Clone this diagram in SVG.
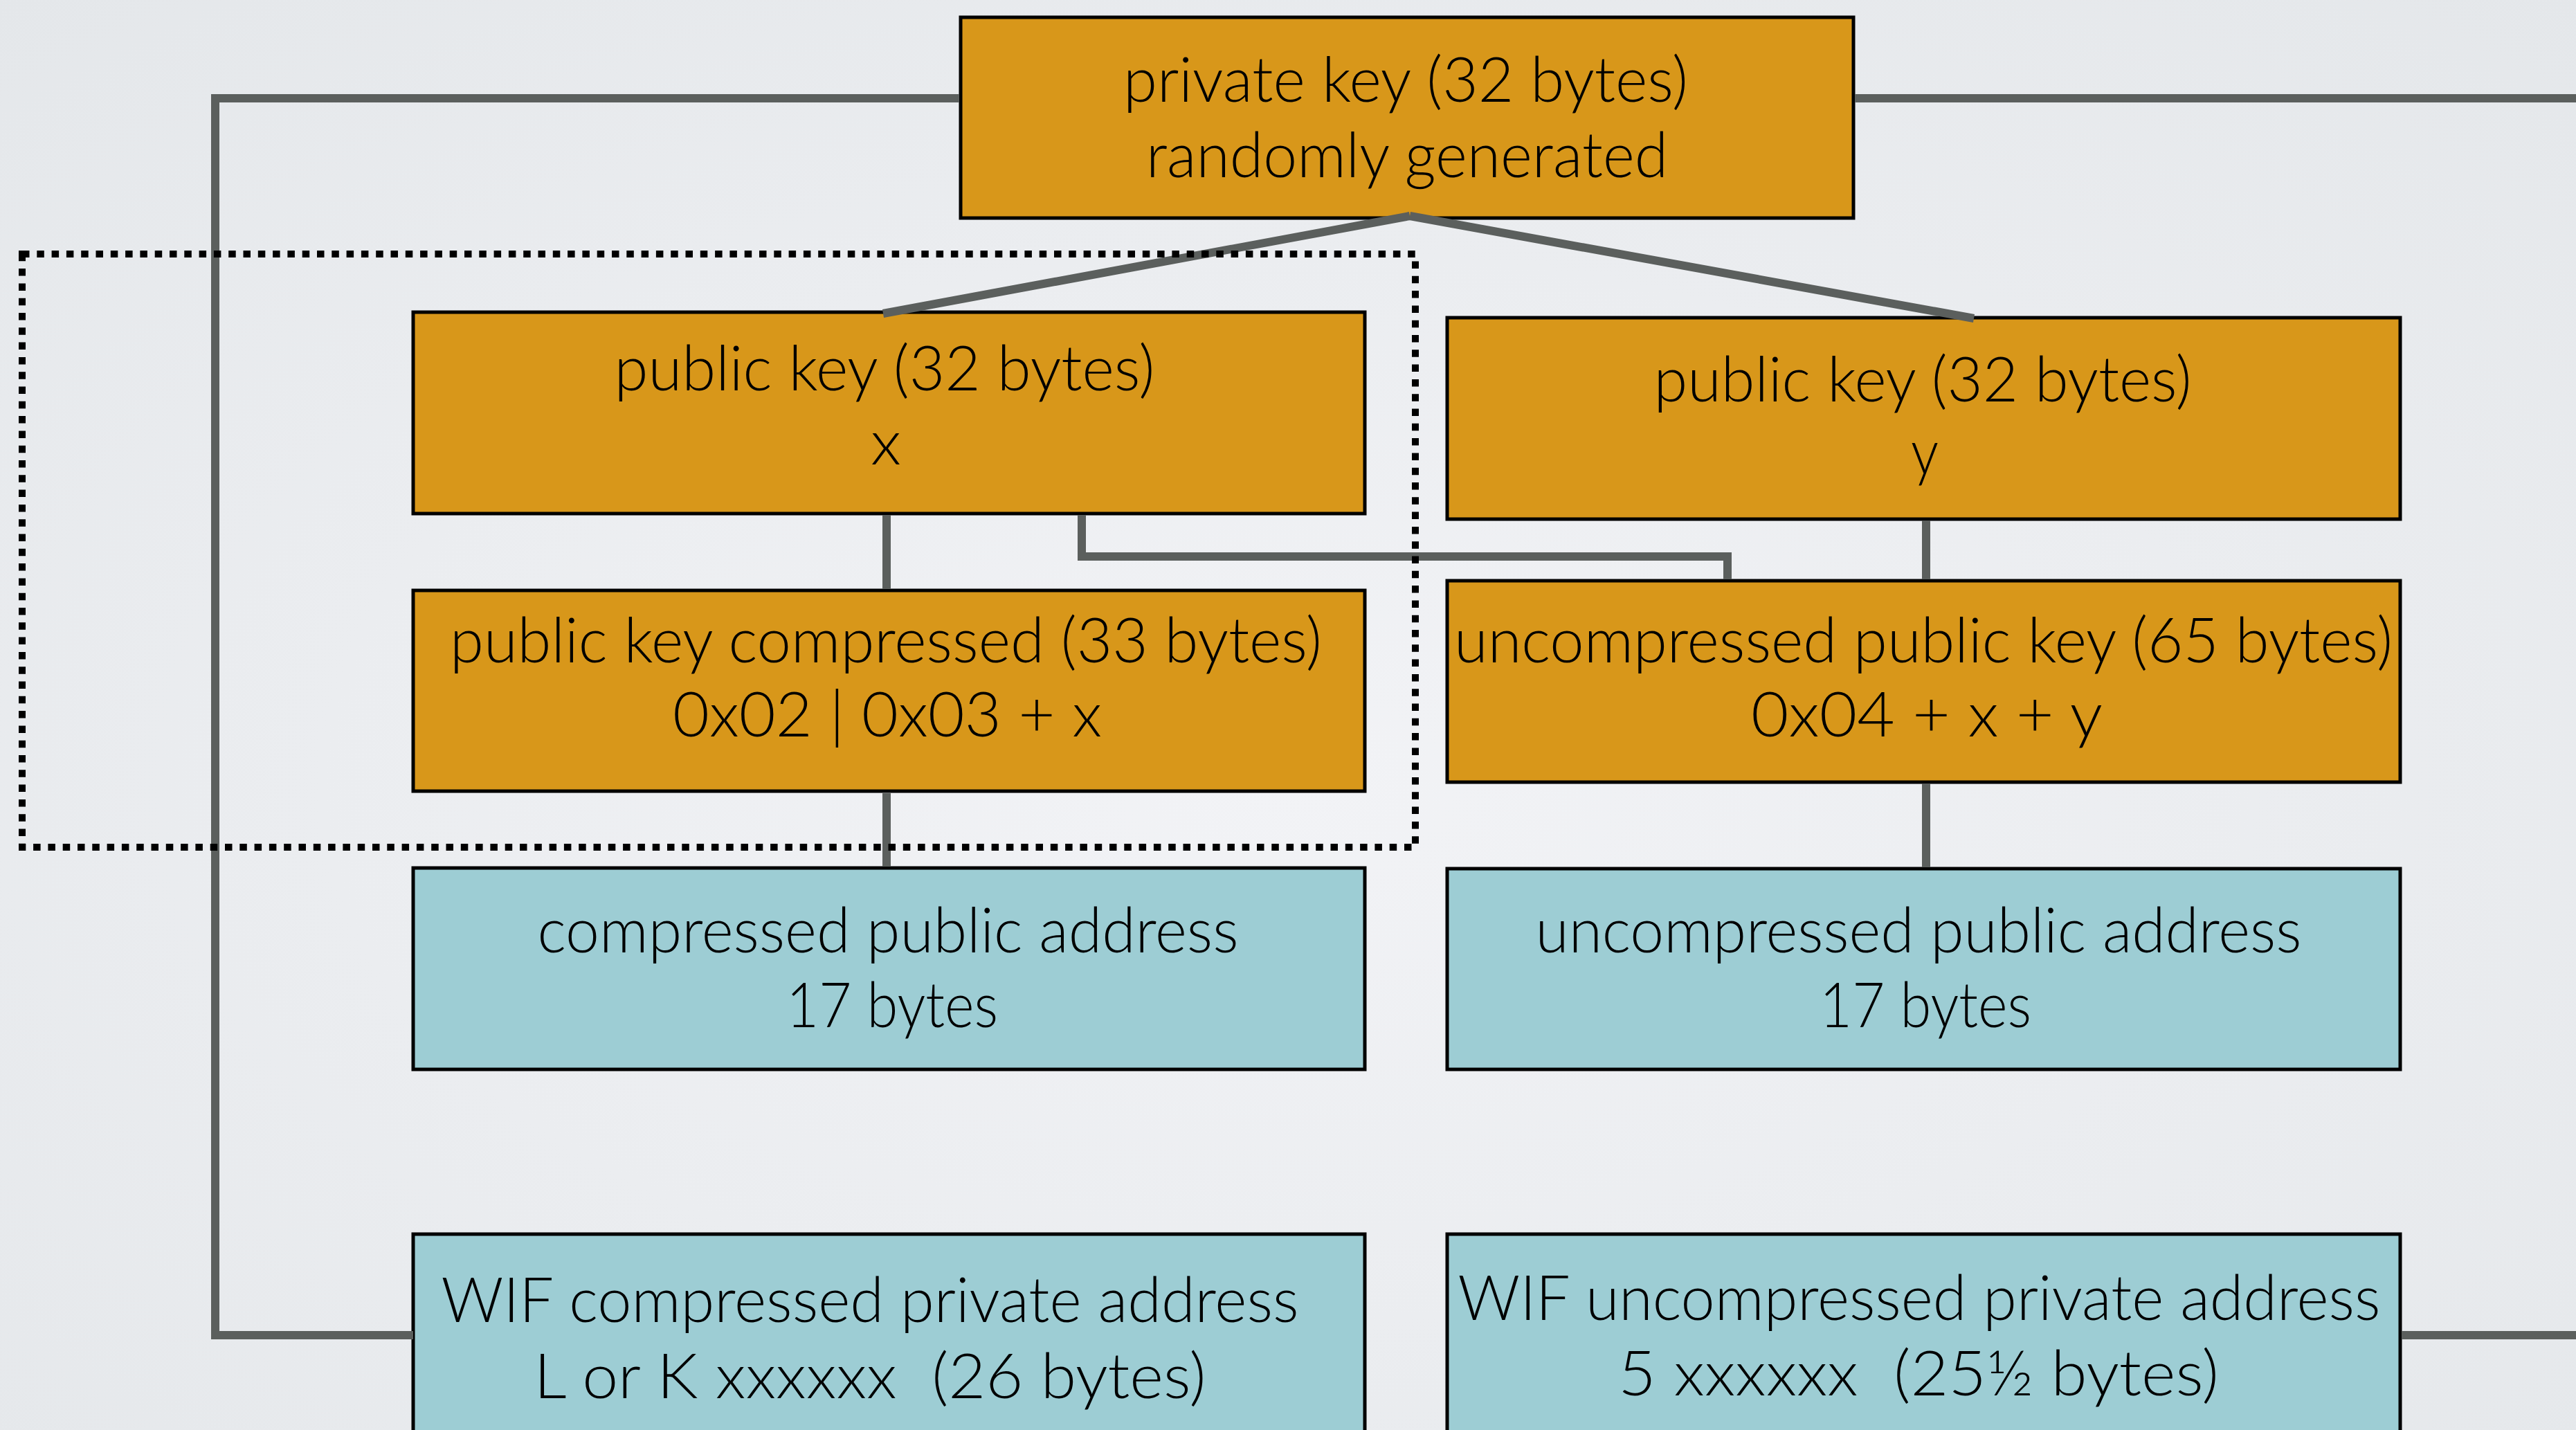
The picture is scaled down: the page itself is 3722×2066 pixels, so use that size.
<svg xmlns="http://www.w3.org/2000/svg" width="3722" height="2066" viewBox="0 0 3722 2066">
<defs>
<radialGradient id="bg" cx="50%" cy="55%" r="75%">
<stop offset="0" stop-color="#F2F3F6"/>
<stop offset="1" stop-color="#E4E7EA"/>
</radialGradient>
<style>
.bo{fill:#D8971A;stroke:#000;stroke-width:5}
.bt{fill:#9DCDD4;stroke:#000;stroke-width:5}
.c{fill:none;stroke:#5B5F5D;stroke-width:12;stroke-linecap:butt;stroke-linejoin:miter}
.dot{fill:none;stroke:#000;stroke-width:10;stroke-dasharray:10.5 10.8}
text{font-family:Lato,"Open Sans","Liberation Sans",sans-serif;font-weight:300;font-size:91px;fill:#000;text-anchor:middle;white-space:pre}
</style>
</defs>
<rect x="0" y="0" width="3722" height="2066" fill="url(#bg)"/>

<g id="private-key">
<rect class="bo" x="1388" y="25" width="1290" height="290"/>
<text x="2031" y="147" textLength="816" lengthAdjust="spacingAndGlyphs">private key (32 bytes)</text>
<text x="2033" y="256" textLength="754" lengthAdjust="spacingAndGlyphs">randomly generated</text>
</g>

<g id="public-key-x">
<rect class="bo" x="597" y="451" width="1375" height="291"/>
<text x="1278" y="564" textLength="781" lengthAdjust="spacingAndGlyphs">public key (32 bytes)</text>
<text x="1280" y="671" textLength="44" lengthAdjust="spacingAndGlyphs">x</text>
</g>

<g id="public-key-y">
<rect class="bo" x="2091" y="459" width="1377" height="291"/>
<text x="2778" y="580" textLength="777" lengthAdjust="spacingAndGlyphs">public key (32 bytes)</text>
<text x="2781" y="685" textLength="40" lengthAdjust="spacingAndGlyphs">y</text>
</g>

<g id="public-key-compressed">
<rect class="bo" x="597" y="853" width="1375" height="290"/>
<text x="1280" y="957" textLength="1260" lengthAdjust="spacingAndGlyphs">public key compressed (33 bytes)</text>
<text x="1282" y="1064" textLength="620" lengthAdjust="spacingAndGlyphs">0x02 | 0x03 + x</text>
</g>

<g id="uncompressed-public-key">
<rect class="bo" x="2091" y="839" width="1377" height="291"/>
<text x="2779" y="957" textLength="1356" lengthAdjust="spacingAndGlyphs">uncompressed public key (65 bytes)</text>
<text x="2784" y="1064" textLength="508" lengthAdjust="spacingAndGlyphs">0x04 + x + y</text>
</g>

<g id="compressed-public-address">
<rect class="bt" x="597" y="1254" width="1375" height="291"/>
<text x="1283" y="1376" textLength="1013" lengthAdjust="spacingAndGlyphs">compressed public address</text>
<text x="1289" y="1484" textLength="306" lengthAdjust="spacingAndGlyphs">17 bytes</text>
</g>

<g id="uncompressed-public-address">
<rect class="bt" x="2091" y="1255" width="1377" height="290"/>
<text x="2772" y="1376" textLength="1107" lengthAdjust="spacingAndGlyphs">uncompressed public address</text>
<text x="2782" y="1484" textLength="306" lengthAdjust="spacingAndGlyphs">17 bytes</text>
</g>

<g id="wif-compressed">
<rect class="bt" x="597" y="1783" width="1375" height="400"/>
<text x="1257" y="1910" textLength="1239" lengthAdjust="spacingAndGlyphs">WIF compressed private address</text>
<text x="1257" y="2020" textLength="971" lengthAdjust="spacingAndGlyphs">L or K xxxxxx  (26 bytes)</text>
</g>

<g id="wif-uncompressed">
<rect class="bt" x="2091" y="1783" width="1377" height="400"/>
<text x="2773" y="1907" textLength="1333" lengthAdjust="spacingAndGlyphs">WIF uncompressed private address</text>
<text x="2772" y="2016" textLength="868" lengthAdjust="spacingAndGlyphs">5 xxxxxx  (25½ bytes)</text>
</g>

<g id="connectors">
<path class="c" d="M1386,142 H311 V1929 H597"/>
<path class="c" d="M2680,142 H3722"/>
<path class="c" d="M3470,1929 H3722"/>
<path class="c" d="M2037,312 L1276,453"/>
<path class="c" d="M2037,312 L2852,460"/>
<path class="c" d="M1281,744 V851"/>
<path class="c" d="M1281,1146 V1252"/>
<path class="c" d="M1563,744 V804 H2496 V837"/>
<path class="c" d="M2783,752 V837"/>
<path class="c" d="M2783,1132 V1253"/>
</g>

<g id="group-outline">
<rect class="dot" x="32" y="367" width="2013" height="857"/>
</g>
</svg>
